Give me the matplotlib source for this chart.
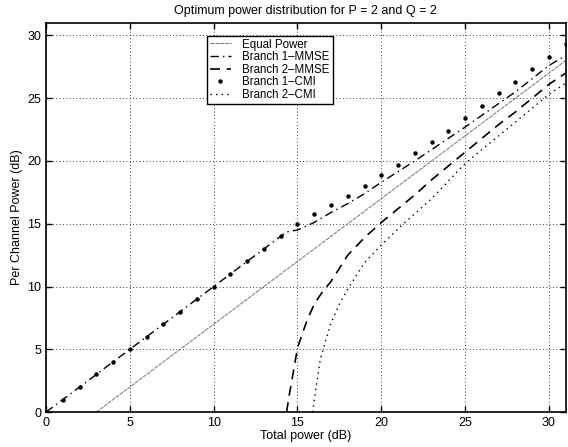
import matplotlib
matplotlib.use('Agg')
import matplotlib.pyplot as plt

plt.rcParams['font.family'] = ['Liberation Sans', 'DejaVu Sans']

# Equal power split: each branch gets half the total
eq_x = [3, 31]
eq_y = [0, 28]

# Branch 1 - MMSE
b1_mmse_x = [0, 14.35, 15, 16, 17, 18, 19, 20, 22, 25, 28, 30, 31]
b1_mmse_y = [0, 14.35, 14.5, 15.1, 15.9, 16.6, 17.4, 18.3, 20.0, 22.7, 25.5, 27.6, 28.4]

# Branch 2 - MMSE
b2_mmse_x = [14.35, 14.5, 14.7, 15, 15.3, 15.6, 16, 16.5, 17, 18, 19, 20, 21, 22,
             23, 24, 25, 26, 27, 28, 29, 30, 31]
b2_mmse_y = [0, 1.3, 2.8, 5.1, 6.3, 7.4, 8.6, 9.6, 10.4, 12.5, 13.9, 15.1, 16.2, 17.3,
             18.5, 19.6, 20.7, 21.8, 22.9, 23.9, 25.0, 26.1, 27.0]

# Branch 1 - CMI (dots at integer total powers)
b1_cmi_x = list(range(0, 32))
b1_cmi_y = [0, 1, 2, 3, 4, 5, 6, 7, 8, 9, 10, 11, 12, 13, 14, 15.0, 15.8, 16.5, 17.2,
            18.0, 18.9, 19.7, 20.6, 21.5, 22.4, 23.4, 24.4, 25.4, 26.3, 27.3, 28.3, 29.3]

# Branch 2 - CMI
b2_cmi_x = [15.9, 16.05, 16.35, 16.7, 17, 17.5, 18, 19, 20, 21, 22, 23, 24, 25,
            26, 27, 28, 29, 30, 31]
b2_cmi_y = [0, 1.4, 4.1, 5.8, 7.1, 8.6, 9.8, 11.9, 13.3, 14.6, 15.8, 17.0, 18.4, 19.8,
            20.9, 22.0, 23.1, 24.2, 25.3, 26.2]

fig = plt.figure(figsize=(5.68, 4.47), dpi=100)
ax = fig.add_axes([0.081, 0.078, 0.915, 0.871])

ax.plot(eq_x, eq_y, color='0.45', lw=0.7, linestyle=(0, (4, 1)), label='Equal Power')
ax.plot(b1_mmse_x, b1_mmse_y, color='black', lw=1.0, linestyle=(0, (6, 3, 1, 3)),
        label='Branch 1\u2013MMSE')
ax.plot(b2_mmse_x, b2_mmse_y, color='black', lw=1.2, linestyle=(0, (6, 4)),
        label='Branch 2\u2013MMSE')
ax.plot(b1_cmi_x, b1_cmi_y, color='black', linestyle='none', marker='o', markersize=2.2,
        label='Branch 1\u2013CMI')
ax.plot(b2_cmi_x, b2_cmi_y, color='black', lw=1.0, linestyle=(0, (1, 3)),
        label='Branch 2\u2013CMI')

ax.set_xlim(0, 31)
ax.set_ylim(0, 31)
ax.set_xticks(range(0, 31, 5))
ax.set_yticks(range(0, 31, 5))
ax.tick_params(direction='in', top=True, right=True, labelsize=9, length=4, width=1)
for s in ax.spines.values():
    s.set_linewidth(1.2)
ax.grid(True, color='black', linestyle=(0, (1, 3)), lw=0.6)

ax.set_xlabel('Total power (dB)', fontsize=9, labelpad=1)
ax.set_ylabel('Per Channel Power (dB)', fontsize=9, labelpad=3)
ax.set_title('Optimum power distribution for P = 2 and Q = 2', fontsize=9, pad=6)

leg = ax.legend(loc='upper left', bbox_to_anchor=(0.31, 0.967), fontsize=8.3,
                fancybox=False, framealpha=1, edgecolor='black', handlelength=1.8,
                borderpad=0.25, labelspacing=0.05, handletextpad=1.0, borderaxespad=0)
leg.get_frame().set_linewidth(1.0)

fig.savefig('out.png', dpi=100)
